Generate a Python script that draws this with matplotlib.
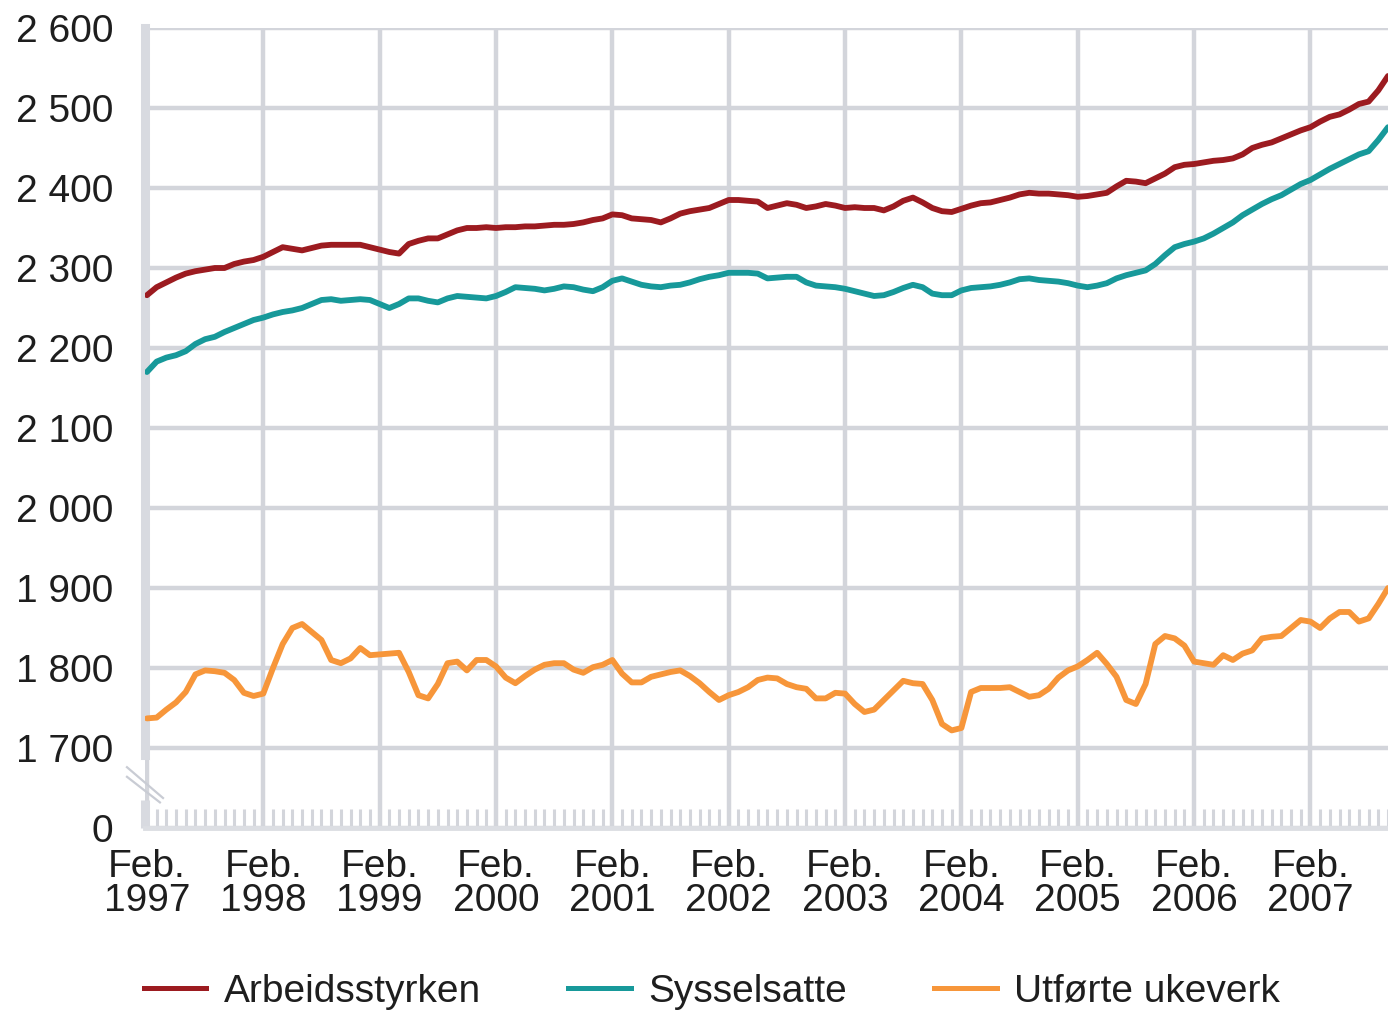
import matplotlib
matplotlib.use("Agg")
import matplotlib.pyplot as plt
from matplotlib.lines import Line2D

plt.rcParams['font.family'] = ['Liberation Sans', 'DejaVu Sans']

# monthly values, Feb 1997 - Oct 2007 (1000 persons / 1000 weeks)
arbeidsstyrken = [
    2266, 2276, 2282, 2288, 2293, 2296, 2298, 2300, 2300, 2305, 2308, 2310,
    2314, 2320, 2326, 2324, 2322, 2325, 2328, 2329, 2329, 2329, 2329, 2326,
    2323, 2320, 2318, 2330, 2334, 2337, 2337, 2342, 2347, 2350, 2350, 2351,
    2350, 2351, 2351, 2352, 2352, 2353, 2354, 2354, 2355, 2357, 2360, 2362,
    2367, 2366, 2362, 2361, 2360, 2357, 2362, 2368, 2371, 2373, 2375, 2380,
    2385, 2385, 2384, 2383, 2375, 2378, 2381, 2379, 2375, 2377, 2380, 2378,
    2375, 2376, 2375, 2375, 2372, 2377, 2384, 2388, 2382, 2375, 2371, 2370,
    2374, 2378, 2381, 2382, 2385, 2388, 2392, 2394, 2393, 2393, 2392, 2391,
    2389, 2390, 2392, 2394, 2402, 2409, 2408, 2406, 2412, 2418, 2426, 2429,
    2430, 2432, 2434, 2435, 2437, 2442, 2450, 2454, 2457, 2462, 2467, 2472,
    2476, 2483, 2489, 2492, 2498, 2505, 2508, 2522, 2540,
]
sysselsatte = [
    2170, 2183, 2188, 2191, 2196, 2205, 2211, 2214, 2220, 2225, 2230, 2235,
    2238, 2242, 2245, 2247, 2250, 2255, 2260, 2261, 2259, 2260, 2261, 2260,
    2255, 2250, 2255, 2262, 2262, 2259, 2257, 2262, 2265, 2264, 2263, 2262,
    2265, 2270, 2276, 2275, 2274, 2272, 2274, 2277, 2276, 2273, 2271, 2276,
    2284, 2287, 2283, 2279, 2277, 2276, 2278, 2279, 2282, 2286, 2289, 2291,
    2294, 2294, 2294, 2293, 2287, 2288, 2289, 2289, 2282, 2278, 2277, 2276,
    2274, 2271, 2268, 2265, 2266, 2270, 2275, 2279, 2276, 2268, 2266, 2266,
    2272, 2275, 2276, 2277, 2279, 2282, 2286, 2287, 2285, 2284, 2283, 2281,
    2278, 2276, 2278, 2281, 2287, 2291, 2294, 2297, 2305, 2316, 2326, 2330,
    2333, 2337, 2343, 2350, 2357, 2366, 2373, 2380, 2386, 2391, 2398, 2405,
    2410, 2417, 2424, 2430, 2436, 2442, 2446, 2460, 2476,
]
ukeverk = [
    1737, 1738, 1748, 1757, 1770, 1792, 1797, 1796, 1794, 1785, 1769, 1765,
    1768, 1800, 1830, 1850, 1855, 1845, 1835, 1810, 1806, 1812, 1825, 1816,
    1817, 1818, 1819, 1795, 1766, 1762, 1780, 1806, 1808, 1797, 1810, 1810,
    1802, 1788, 1781, 1790, 1798, 1804, 1806, 1806, 1798, 1794, 1801, 1804,
    1810, 1793, 1782, 1782, 1789, 1792, 1795, 1797, 1790, 1781, 1770, 1760,
    1766, 1770, 1776, 1785, 1788, 1787, 1780, 1776, 1774, 1762, 1762, 1769,
    1768, 1755, 1745, 1748, 1760, 1772, 1784, 1781, 1780, 1760, 1730, 1722,
    1725, 1770, 1775, 1775, 1775, 1776, 1770, 1764, 1766, 1774, 1788, 1797,
    1802, 1810, 1819, 1805, 1789, 1760, 1755, 1780, 1830, 1840, 1837, 1828,
    1808, 1806, 1804, 1816, 1810, 1818, 1822, 1837, 1839, 1840, 1850, 1860,
    1858, 1850, 1862, 1870, 1870, 1858, 1862, 1880, 1900,
]
years = [str(y) for y in range(1997, 2008)]
series_names = ["Arbeidsstyrken", "Sysselsatte", "Utførte ukeverk"]
y_ticks = [1600, 1700, 1800, 1900, 2000, 2100, 2200, 2300, 2400, 2500, 2600]
y_labels = ["0", "1 700", "1 800", "1 900", "2 000", "2 100", "2 200",
            "2 300", "2 400", "2 500", "2 600"]

colors = ["#9c1b20", "#17999a", "#f7963a"]
grid_c = "#d3d5db"
text_c = "#1e1e1e"

months = list(range(len(arbeidsstyrken)))

fig = plt.figure(figsize=(13.88, 10.10), dpi=100)
ax = fig.add_axes([145 / 1388, 1 - 828 / 1010, 1 - 145 / 1388, 800 / 1010])

for vals, c in zip([arbeidsstyrken, sysselsatte, ukeverk], colors):
    ax.plot(months, vals, color=c, lw=4.2, solid_joinstyle='round',
            solid_capstyle='round', zorder=3)

ax.set_xlim(-0.2, 128)
ax.set_ylim(1600, 2600)

ax.set_yticks(y_ticks)
ax.set_yticklabels(y_labels)
ax.set_xticks(list(range(0, 121, 12)))
ax.set_xticklabels(["Feb.\n" + y for y in years], linespacing=0.95)
ax.set_xticks(months, minor=True)

ax.grid(True, which='major', color=grid_c, lw=3.2, zorder=1)
ax.tick_params(axis='both', which='major', length=0, labelsize=28, labelcolor=text_c)
ax.tick_params(axis='y', pad=23)
ax.tick_params(axis='x', pad=15)
ax.tick_params(axis='x', which='minor', direction='in', length=14, width=2.2,
               color=grid_c)

for s in ['top', 'right']:
    ax.spines[s].set_visible(False)
ax.spines['bottom'].set_color("#dcdee3")
ax.spines['bottom'].set_linewidth(3.5)
ax.spines['left'].set_color("#d8dae0")
ax.spines['left'].set_linewidth(6.5)
ax.spines['left'].set_bounds(1691, 2600)
ax.plot([0, 0], [0, 0.035], transform=ax.transAxes, color="#d8dae0", lw=6.5,
        clip_on=False, zorder=2, solid_capstyle='butt')

# axis break marks
ax.plot([-0.0145, 0.0145], [0.076, 0.0375], transform=ax.transAxes,
        color="#c9ccd4", lw=1.6, clip_on=False)
ax.plot([-0.0145, 0.012], [0.064, 0.032], transform=ax.transAxes,
        color="#c9ccd4", lw=1.6, clip_on=False)

handles = [Line2D([], [], color=c, lw=3.6) for c in colors]
fig.legend(handles, series_names, loc='center left',
           bbox_to_anchor=(144 / 1388, 0.018), ncol=3, frameon=False,
           fontsize=28, handlelength=1.6, handletextpad=0.45,
           columnspacing=2.25, borderpad=0, borderaxespad=0,
           labelcolor=text_c)

fig.savefig("out.png", dpi=100)
